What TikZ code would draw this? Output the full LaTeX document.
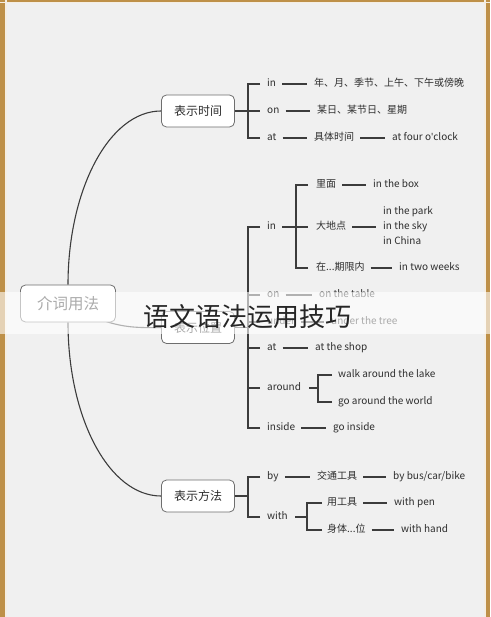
\documentclass[tikz,border=0pt]{standalone}
\usepackage{fontspec}
\setmainfont{Noto Sans CJK SC}
\newfontfamily\apf{Noto Sans}
\definecolor{bg}{HTML}{F0F0F0}
\definecolor{gold}{HTML}{BE9048}
\definecolor{lc}{HTML}{3C3C3C}
\definecolor{tc}{HTML}{2E2E2E}
\definecolor{bc}{HTML}{6E6E6E}
\pgfdeclarelayer{back}
\pgfdeclarelayer{curves}
\pgfdeclarelayer{front}
\pgfsetlayers{back,curves,main,front}
\begin{document}
\begin{tikzpicture}[x=1pt,y=-1pt,
  lbl/.style={anchor=west,inner sep=0pt,text height=7.5pt,text depth=2.5pt,font=\fontsize{10}{12}\selectfont,text=tc},
  topic/.style={draw=bc,line width=0.8pt,fill=white,rounded corners=5pt,minimum width=73pt,minimum height=32pt,inner sep=0pt,font=\fontsize{12}{14}\selectfont,text=tc},
  rootbox/.style={topic,minimum width=95pt,minimum height=37pt,font=\fontsize{15.5}{18}\selectfont},
  ln/.style={draw=lc,line width=1.1pt},
  link/.style={ln,shorten <=6pt,shorten >=7pt},
  tick/.style={xshift=-7pt}
]
\useasboundingbox (0,0) rectangle (490,617);
% background and frame
\begin{pgfonlayer}{back}
\fill[bg] (0,0) rectangle (490,617);
\fill[gold] (0,0) rectangle (5,617);
\fill[gold] (0,0) rectangle (490,1.7);
\fill[gold] (485.5,0) rectangle (490,617);
\fill[white!85!gold] (5,0) rectangle (6.5,617);
\fill[white!85!gold] (0,1.7) rectangle (490,3.2);
\fill[white!85!gold] (483.5,0) rectangle (485.5,617);
\end{pgfonlayer}

% topics
\node[rootbox] (root) at (68,303.5) {介词用法};
\node[topic] (time) at (198,111) {表示时间};
\node[topic] (pos) at (198,327.5) {表示位置};
\node[topic] (meth) at (198,496) {表示方法};

% main curves
\begin{pgfonlayer}{curves}
\draw[ln] (root.north) .. controls (68,190) and (109,111) .. (time.west);
\draw[ln] (root.south) .. controls (68,418) and (109,496) .. (meth.west);
\draw[ln] (root.center) .. controls (110,328) and (130,328) .. (pos.west);
\end{pgfonlayer}

% ---- time group
\coordinate (tb) at (248,111);
\node[lbl] (tin) at (267,84) {in};
\node[lbl] (tyr) at (314,84) {年、月、季节、上午、下午或傍晚};
\node[lbl] (ton) at (267,111) {on};
\node[lbl] (tsd) at (317,111) {某日、某节日、星期};
\node[lbl] (tat) at (267,138) {at};
\node[lbl] (tjt) at (314,138) {具体时间};
\node[lbl] (tfc) at (392,138) {at four o{\apf '}clock};
\draw[ln] (time.east) -- (tb);
\draw[ln] ([tick]tin.west) -| (tb);
\draw[ln] ([tick]tat.west) -| (tb);
\draw[ln] (tb) -- ([tick]ton.west);
\draw[link] (tin.east) -- (tyr.west);
\draw[link] (ton.east) -- (tsd.west);
\draw[link] (tat.east) -- (tjt.west);
\draw[link] (tjt.east) -- (tfc.west);

% ---- position group
\coordinate (pb) at (248,327.5);
\coordinate (pbt) at (248,227);
\node[lbl] (pin) at (267,227) {in};
\coordinate (pinb) at (296,227);
\node[lbl] (plm) at (316,185) {里面};
\node[lbl] (pbox) at (373,185) {in the box};
\node[lbl] (pdd) at (316,227) {大地点};
\node[lbl] (pk1) at (383,212) {in the park};
\node[lbl] (pk2) at (383,227) {in the sky};
\node[lbl] (pk3) at (383,241.5) {in China};
\node[lbl] (pqx) at (316,268) {在...期限内};
\node[lbl] (ptw) at (399,268) {in two weeks};
\node[lbl] (pon) at (267,295) {on};
\node[lbl] (ptb) at (319,295) {on the table};
\node[lbl] (pun) at (267,322) {under};
\node[lbl] (ptr) at (331,322) {under the tree};
\node[lbl] (pat) at (267,348) {at};
\node[lbl] (psh) at (315,348) {at the shop};
\node[lbl] (par) at (267,388) {around};
\coordinate (parb) at (318,388);
\node[lbl] (pwk) at (338,375) {walk around the lake};
\node[lbl] (pgo) at (338,402) {go around the world};
\node[lbl] (pis) at (267,428) {inside};
\node[lbl] (pgi) at (333,428) {go inside};

\draw[ln] (pos.east) -- (pb);
\draw[ln] ([tick]pin.west) -| (pb);
\draw[ln] ([tick]pis.west) -| (pb);
\draw[ln] (pbt |- pon.west) -- ([tick]pon.west);
\draw[ln] (pbt |- pun.west) -- ([tick]pun.west);
\draw[ln] (pbt |- pat.west) -- ([tick]pat.west);
\draw[ln] (pbt |- par.west) -- ([tick]par.west);
\draw[ln,shorten <=6pt] (pin.east) -- (pinb);
\draw[ln] ([xshift=-8pt]plm.west) -| (pinb);
\draw[ln] ([xshift=-8pt]pqx.west) -| (pinb);
\draw[ln] (pinb) -- ([xshift=-8pt]pdd.west);
\draw[link] (plm.east) -- (pbox.west);
\draw[link] (pdd.east) -- (pk2.west);
\draw[link] (pqx.east) -- (ptw.west);
\draw[link] (pon.east) -- (ptb.west);
\draw[link] (pun.east) -- (ptr.west);
\draw[link] (pat.east) -- (psh.west);
\draw[ln,shorten <=8pt] (par.east) -- (parb);
\draw[ln] ([xshift=-6pt]pwk.west) -| (parb);
\draw[ln] ([xshift=-6pt]pgo.west) -| (parb);
\draw[link] (pis.east) -- (pgi.west);

% ---- method group
\coordinate (mb) at (248,496);
\node[lbl] (mby) at (267,477) {by};
\node[lbl] (mjt) at (317,477) {交通工具};
\node[lbl] (mbus) at (393,477) {by bus/car/bike};
\node[lbl] (mw) at (267,517) {with};
\coordinate (mwb) at (307,517);
\node[lbl] (mgj) at (327,503) {用工具};
\node[lbl] (mpen) at (394,503) {with pen};
\node[lbl] (mst) at (327,530) {身体...位};
\node[lbl] (mhand) at (401,530) {with hand};
\draw[ln] (meth.east) -- (mb);
\draw[ln] ([tick]mby.west) -| (mb);
\draw[ln] ([tick]mw.west) -| (mb);
\draw[link] (mby.east) -- (mjt.west);
\draw[link] (mjt.east) -- (mbus.west);
\draw[ln,shorten <=7pt] (mw.east) -- (mwb);
\draw[ln] ([xshift=-5pt]mgj.west) -| (mwb);
\draw[ln] ([xshift=-5pt]mst.west) -| (mwb);
\draw[link] (mgj.east) -- (mpen.west);
\draw[link] (mst.east) -- (mhand.west);

% ---- translucent band and title
\begin{pgfonlayer}{front}
\fill[white,opacity=0.6] (0,292) rectangle (490,334);
\node[inner sep=0pt,font=\fontsize{26}{30}\selectfont,text=black!85] (title) at (247.5,317) {语文语法运用技巧};
\end{pgfonlayer}
\end{tikzpicture}
\end{document}
